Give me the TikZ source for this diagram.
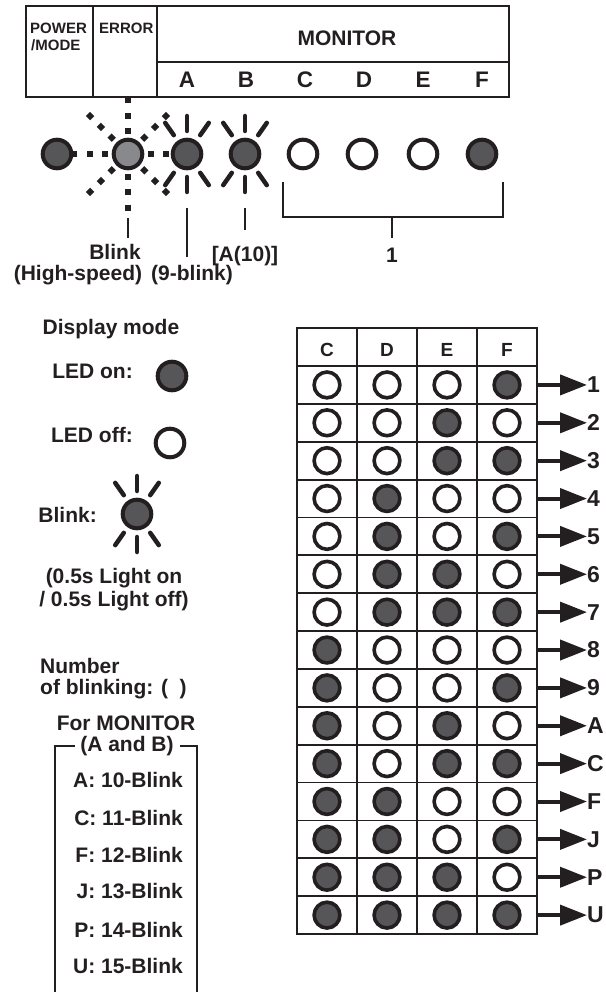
\documentclass[tikz,border=0pt]{standalone}
\usepackage{fontspec}
\setmainfont{Liberation Sans}
\usepackage{xcolor}
\usepackage{tikz}
\usetikzlibrary{arrows.meta,positioning,calc}
\definecolor{ledgrey}{RGB}{86, 86, 88}
\definecolor{errgrey}{RGB}{136, 137, 140}
\definecolor{inkblack}{RGB}{35, 31, 32}

\begin{document}
\begin{tikzpicture}[x=1pt, y=-1pt, >={Triangle[length=27pt,width=20pt]},
    lbl/.style={font=\fontsize{21pt}{24pt}\selectfont\bfseries, text=inkblack, inner sep=0pt},
    hdrsmall/.style={lbl, font=\fontsize{15pt}{17pt}\selectfont\bfseries},
    hdrbig/.style={lbl, font=\fontsize{22.5pt}{24pt}\selectfont\bfseries},
    gridhdr/.style={lbl, font=\fontsize{19pt}{21pt}\selectfont\bfseries},
    outlbl/.style={lbl, font=\fontsize{23pt}{25pt}\selectfont\bfseries},
    led/.style={circle, draw=inkblack, line width=4pt, fill=#1, minimum size=28.6pt, inner sep=0pt},
    cell/.style={circle, draw=inkblack, line width=3.6pt, fill=#1, minimum size=25.8pt, inner sep=0pt},
    frame/.style={draw=inkblack, line width=2pt},
    leader/.style={draw=inkblack, line width=1.4pt},
    blinkray/.style={draw=inkblack, line width=4.5pt, line cap=round},
    fastray/.style={draw=inkblack, line width=6pt, dash pattern=on 6pt off 9.3pt},
    outarrow/.style={->, draw=inkblack, line width=4pt}]
    \useasboundingbox (0,0) rectangle (605,992);

    % Top: LED panel header
    \draw[frame] (26,6) rectangle (509,97);
    \draw[frame] (93,6) -- (93,97);
    \draw[frame] (157,6) -- (157,97);
    \draw[frame] (157,62) -- (509,62);
    \node[hdrsmall, anchor=base west] (H_POWER) at (30,34) {POWER};
    \node[hdrsmall, anchor=base west] (H_MODE) at (31,51) {/MODE};
    \node[hdrsmall, anchor=base west] (H_ERROR) at (99,34) {ERROR};
    \node[lbl, anchor=base] (H_MONITOR) at (347,46) {MONITOR};
    \node[hdrbig, anchor=base] (H_A) at (187,88) {A};
    \node[hdrbig, anchor=base] (H_B) at (246,88) {B};
    \node[hdrbig, anchor=base] (H_C) at (305,88) {C};
    \node[hdrbig, anchor=base] (H_D) at (364,88) {D};
    \node[hdrbig, anchor=base] (H_E) at (423,88) {E};
    \node[hdrbig, anchor=base] (H_F) at (482,88) {F};

    % High-speed blink rays of ERROR (under the LEDs)
    \coordinate (ERR_C) at (128,154);
    \foreach \ang in {0,45,...,315}
        \draw[fastray] ([shift={(\ang:4.7)}]ERR_C) -- ([shift={(\ang:56.6)}]ERR_C);

    % Top: LED row
    \node[led=ledgrey] (LED_PM) at (57,154) {};
    \node[led=errgrey] (LED_ERR) at (ERR_C) {};
    \node[led=ledgrey] (LED_A) at (187,154) {};
    \node[led=ledgrey] (LED_B) at (245,154) {};
    \node[led=white] (LED_C) at (303,154) {};
    \node[led=white] (LED_D) at (362,154) {};
    \node[led=white] (LED_E) at (423,154) {};
    \node[led=ledgrey] (LED_F) at (482,154) {};

    % Legend: display mode
    \node[lbl] (L_MODE) at (111,329) {Display mode};
    \node[lbl, anchor=base east] (L_ON) at (133,378) {LED on:};
    \node[led=ledgrey] (LEG_ON) at (172,376) {};
    \node[lbl, anchor=base east] (L_OFF) at (133,442) {LED off:};
    \node[led=white] (LEG_OFF) at (170,443) {};
    \node[lbl, anchor=base east] (L_BLINK) at (97,522) {Blink:};
    \node[led=ledgrey] (LEG_BLINK) at (137,514) {};
    \node[lbl, anchor=base] (L_PERIOD1) at (114,583) {(0.5s Light on};
    \node[lbl, anchor=base] (L_PERIOD2) at (114,606) {/ 0.5s Light off)};

    % Blink rays
    \foreach \ctr in {LED_A, LED_B, LEG_BLINK}
        \foreach \ang in {55,90,125,235,270,305}
            \draw[blinkray] ([shift={(\ang:23)}]\ctr.center) -- ([shift={(\ang:38)}]\ctr.center);

    % Top: leaders and labels
    \node[lbl, anchor=base] (T_BLINK) at (115,259) {Blink};
    \node[lbl, anchor=base] (T_HIGH) at (78,280) {(High-speed)};
    \node[lbl, anchor=base] (T_NINE) at (192,280) {(9-blink)};
    \node[lbl, anchor=base] (T_TEN) at (245,261) {[A(10)]};
    \node[lbl, anchor=base] (T_ONE) at (392,262) {1};
    \coordinate (TICK_ERR) at (128,218);
    \coordinate (TICK_A) at (187,208);
    \coordinate (TICK_B) at (245,208);
    \draw[leader] (TICK_ERR) -- ++(0,20);
    \draw[leader] (TICK_A) -- ++(0,49);
    \draw[leader] (TICK_B) -- ++(0,22);
    \coordinate (BRK_L) at (283,182);
    \coordinate (BRK_R) at (503,182);
    \coordinate (BRK_M) at (392,217);
    \draw[leader] (BRK_L) -- ++(0,35) -| (BRK_R);
    \draw[leader] (BRK_M) -- ++(0,21);

    % Legend: number of blinking
    \node[lbl, anchor=base west] (L_NUM1) at (40,673) {Number};
    \node[lbl, anchor=base west] (L_NUM2) at (40,694) {of blinking: (\hspace{0.55em})};
    \node[lbl, anchor=base] (L_FOR) at (126,730) {For MONITOR};
    \node[lbl, anchor=base] (L_AB) at (127,751) {(A and B)};
    \draw[frame] (75,746) -- (55,746) -- (55,992);
    \draw[frame] (180,746) -- (197,746) -- (197,992);
    \node[lbl, anchor=base east] (N_A) at (183,787) {A: 10-Blink};
    \node[lbl, anchor=base east] (N_C) at (183,825) {C: 11-Blink};
    \node[lbl, anchor=base east] (N_F) at (183,862) {F: 12-Blink};
    \node[lbl, anchor=base east] (N_J) at (183,898) {J: 13-Blink};
    \node[lbl, anchor=base east] (N_P) at (183,937) {P: 14-Blink};
    \node[lbl, anchor=base east] (N_U) at (183,973) {U: 15-Blink};

    % Right: code table
    \draw[frame, line width=1.8pt] (297,328) rectangle (537,934);
    \foreach \xx in {357,417,477}
        \draw[frame, line width=1.8pt] (\xx,328) -- (\xx,934);
    \node[gridhdr, anchor=base] (G_C) at (327,356) {C};
    \node[gridhdr, anchor=base] (G_D) at (387,356) {D};
    \node[gridhdr, anchor=base] (G_E) at (447,356) {E};
    \node[gridhdr, anchor=base] (G_F) at (507,356) {F};
    \foreach \lbl/\c/\d/\e/\f [count=\r] in {
        1/white/white/white/ledgrey, 2/white/white/ledgrey/white,
        3/white/white/ledgrey/ledgrey, 4/white/ledgrey/white/white,
        5/white/ledgrey/white/ledgrey, 6/white/ledgrey/ledgrey/white,
        7/white/ledgrey/ledgrey/ledgrey, 8/ledgrey/white/white/white,
        9/ledgrey/white/white/ledgrey, A/ledgrey/white/ledgrey/white,
        C/ledgrey/white/ledgrey/ledgrey, F/ledgrey/ledgrey/white/white,
        J/ledgrey/ledgrey/white/ledgrey, P/ledgrey/ledgrey/ledgrey/white,
        U/ledgrey/ledgrey/ledgrey/ledgrey} {
        \pgfmathsetmacro\ytop{366+37.87*(\r-1)}
        \pgfmathsetmacro\yy{\ytop+18.93}
        \draw[frame, line width=1.8pt] (297,\ytop) -- (537,\ytop);
        \node[cell=\c] (GRID_\r_C) at (327,\yy) {};
        \node[cell=\d] (GRID_\r_D) at (387,\yy) {};
        \node[cell=\e] (GRID_\r_E) at (447,\yy) {};
        \node[cell=\f] (GRID_\r_F) at (507,\yy) {};
        \coordinate (ROW_\r) at (537,\yy);
        \node[outlbl, anchor=west] (OUT_\r) at (587,\yy) {\lbl};
        \draw[outarrow] (ROW_\r) -- (OUT_\r.west);
    }
\end{tikzpicture}
\end{document}
